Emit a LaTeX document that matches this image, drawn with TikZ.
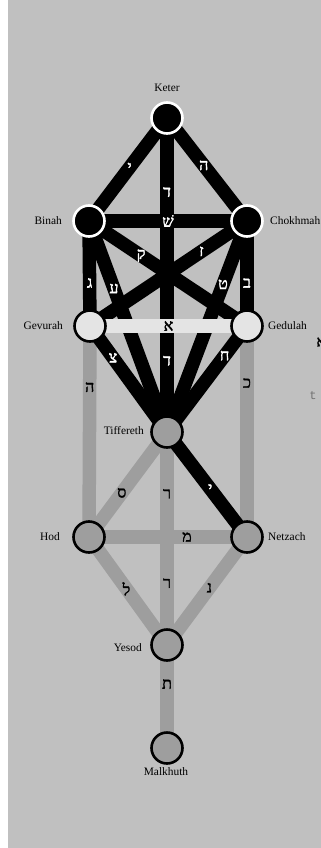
\documentclass[tikz,border=0pt]{standalone}
\usepackage{fontspec}
\setmainfont{Liberation Serif}
\setmonofont{Liberation Mono}
\newfontfamily\hebfont[Script=Hebrew, FakeBold=2]{Liberation Serif}

\definecolor{bggray}{RGB}{192,192,192}
\definecolor{pathgray}{RGB}{158,158,158}
\definecolor{palegray}{RGB}{228,228,228}

\pgfdeclarelayer{canvas}
\pgfdeclarelayer{paths}
\pgfsetlayers{canvas,paths,main}

\tikzset{
  sefira/.style={circle, minimum size=31pt, inner sep=0pt, line width=2.6pt},
  supernal/.style={sefira, fill=black, draw=white},
  pale/.style={sefira, fill=palegray, draw=black},
  lowly/.style={sefira, fill=pathgray, draw=black},
  sname/.style={font=\fontsize{11.4}{11.4}\selectfont, text=black, inner sep=0pt},
  darkpath/.style={line width=13.5pt, draw=black},
  greypath/.style={line width=13.5pt, draw=pathgray},
  palepath/.style={line width=13.5pt, draw=palegray},
  letter/.style={font=\hebfont\fontsize{16}{16}\selectfont, inner sep=0pt},
  wl/.style={letter, text=white},
  bl/.style={letter, text=black},
}

\begin{document}
\begin{tikzpicture}[x=1pt, y=-1pt]
  \useasboundingbox (0,0) rectangle (321,848);

  % the ten sefirot
  \node[supernal] (keter)    at (167,118) {};
  \node[supernal] (binah)    at (89,221)  {};
  \node[supernal] (chokhmah) at (247,221) {};
  \node[pale]     (gevurah)  at (90,326)  {};
  \node[pale]     (gedulah)  at (247,326) {};
  \node[lowly]    (tiff)     at (167,432) {};
  \node[lowly]    (hod)      at (89,537)  {};
  \node[lowly]    (netzach)  at (247,537) {};
  \node[lowly]    (yesod)    at (167,645) {};
  \node[lowly]    (malkhuth) at (167,748) {};

  % canvas
  \begin{pgfonlayer}{canvas}
    \fill[white] (0,0) rectangle (8,848);
    \fill[bggray] (8,0) rectangle (321,848);
  \end{pgfonlayer}

  % the paths, behind the circles
  \begin{pgfonlayer}{paths}
    \foreach \a/\b in {gevurah/hod, gedulah/netzach, tiff/hod, tiff/yesod,
                       hod/netzach, hod/yesod, netzach/yesod, yesod/malkhuth}
      \draw[greypath] (\a.center) -- (\b.center);
    \foreach \a/\b in {keter/binah, keter/chokhmah, keter/tiff, binah/chokhmah,
                       binah/gevurah, binah/gedulah, binah/tiff,
                       chokhmah/gevurah, chokhmah/tiff, chokhmah/gedulah,
                       gevurah/tiff, gedulah/tiff, tiff/netzach}
      \draw[darkpath] (\a.center) -- (\b.center);
    \draw[palepath] (gevurah.center) -- (gedulah.center);
  \end{pgfonlayer}

  % letters on the paths
  \path (keter.center) -- node[wl, pos=.48] (l-kb) {י} (binah.center);
  \path (keter.center) -- node[wl, pos=.46] (l-kc) {ה} (chokhmah.center);
  \path (keter.center) -- node[wl, pos=.236] (l-kt1) {ד} (tiff.center);
  \path (keter.center) -- node[wl, pos=.773] (l-kt2) {ד} (tiff.center);
  \path (binah.center) -- node[wl, pos=.5] (l-bc) {שׁ} (chokhmah.center);
  \path (binah.center) -- node[wl, pos=.59] (l-bg) {ג} (gevurah.center);
  \path (binah.center) -- node[wl, pos=.33] (l-bge) {ק} (gedulah.center);
  \path (binah.center) -- node[wl, pos=.32] (l-bt) {ע} (tiff.center);
  \path (chokhmah.center) -- node[wl, pos=.29] (l-cg) {ז} (gevurah.center);
  \path (chokhmah.center) -- node[wl, pos=.30] (l-ct) {ט} (tiff.center);
  \path (chokhmah.center) -- node[wl, pos=.59] (l-cge) {ב} (gedulah.center);
  \path (gevurah.center) -- node[wl, pos=.30] (l-gt) {צ} (tiff.center);
  \path (gedulah.center) -- node[wl, pos=.28] (l-get) {ח} (tiff.center);
  \path (tiff.center) -- node[wl, pos=.54] (l-tn) {י} (netzach.center);
  \path (gevurah.center) -- node[bl, pos=.5] (l-gg) {א} (gedulah.center);

  \path (gevurah.center) -- node[bl, pos=.29] (l-gh) {ה} (hod.center);
  \path (gedulah.center) -- node[bl, pos=.27] (l-gn) {כ} (netzach.center);
  \path (tiff.center) -- node[bl, pos=.58] (l-th) {ס} (hod.center);
  \path (tiff.center) -- node[bl, pos=.29] (l-ty1) {ר} (yesod.center);
  \path (tiff.center) -- node[bl, pos=.71] (l-ty2) {ר} (yesod.center);
  \path (hod.center) -- node[bl, pos=.62] (l-hn) {מ} (netzach.center);
  \path (hod.center) -- node[bl, pos=.48] (l-hy) {ל} (yesod.center);
  \path (netzach.center) -- node[bl, pos=.47] (l-ny) {נ} (yesod.center);
  \path (yesod.center) -- node[bl, pos=.38] (l-ym) {ת} (malkhuth.center);

  % names of the sefirot
  \node[sname] (n-keter)    at (167,88)  {Keter};
  \node[sname, anchor=east] (n-binah)    at (62,221)  {Binah};
  \node[sname, anchor=west] (n-chokhmah) at (270,221) {Chokhmah};
  \node[sname, anchor=east] (n-gevurah)  at (63,326)  {Gevurah};
  \node[sname, anchor=west] (n-gedulah)  at (268,326) {Gedulah};
  \node[sname, anchor=east] (n-tiff)     at (144,431) {Tiffereth};
  \node[sname, anchor=east] (n-hod)      at (60,537)  {Hod};
  \node[sname, anchor=west] (n-netzach)  at (268,537) {Netzach};
  \node[sname, anchor=east] (n-yesod)    at (142,648) {Yesod};
  \node[sname] (n-malkhuth) at (166,772) {Malkhuth};

  % stray marks at the right edge
  \node[font=\hebfont\fontsize{15}{15}\selectfont, inner sep=0pt] (stray-a) at (321,342) {א};
  \node[font=\ttfamily\fontsize{12}{12}\selectfont, text=black!55] (stray-t) at (313,396) {t};
\end{tikzpicture}
\end{document}
